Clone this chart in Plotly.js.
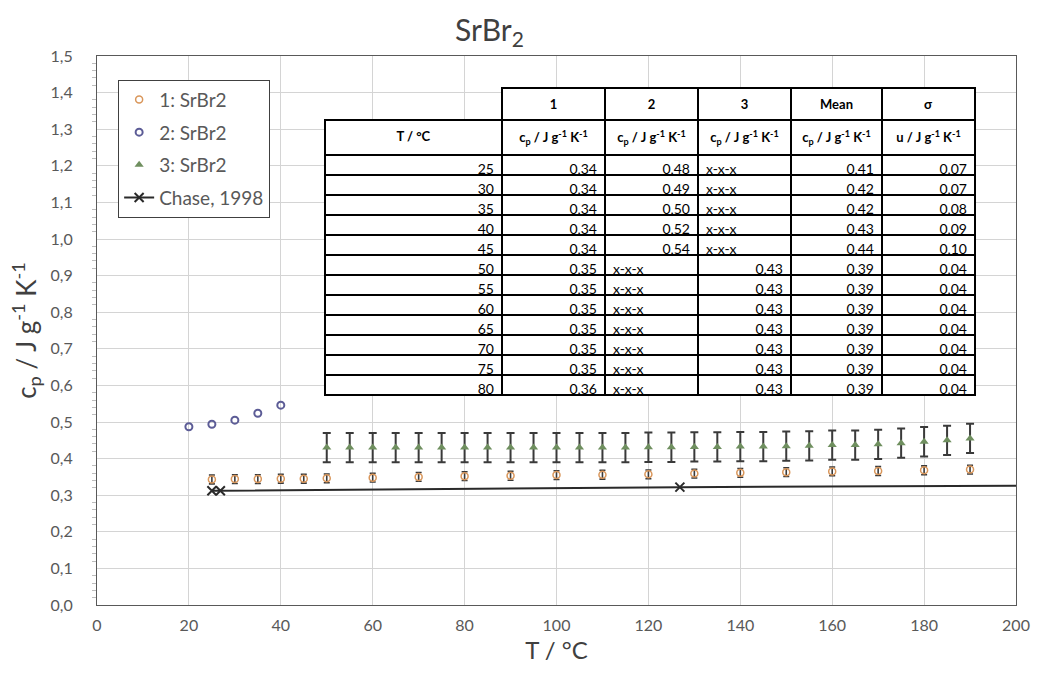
<!DOCTYPE html>
<html>
<head>
<meta charset="utf-8">
<script src="https://cdn.plot.ly/plotly-3.0.1.min.js"></script>
<style>html,body{margin:0;padding:0;background:#fff;}#chart{width:1037px;height:679px;}</style>
</head>
<body>
<div id="chart"></div>
<script>
// ---- Series data ----
const s1Name = '1: SrBr2';
const s1X = [25,30,35,40,45,50,60,70,80,90,100,110,120,130,140,150,160,170,180,190];
const s1Y = [0.343,0.344,0.344,0.345,0.345,0.346,0.348,0.350,0.352,0.353,0.355,0.356,0.357,0.359,0.361,0.363,0.365,0.366,0.368,0.370];
const s1Err = 0.012;

const s2Name = '2: SrBr2';
const s2X = [20,25,30,35,40];
const s2Y = [0.487,0.494,0.505,0.524,0.546];

const s3Name = '3: SrBr2';
const s3X = [50,55,60,65,70,75,80,85,90,95,100,105,110,115,120,125,130,135,140,145,150,155,160,165,170,175,180,185,190];
const s3Y = [0.430,0.430,0.430,0.430,0.430,0.430,0.430,0.430,0.430,0.430,0.430,0.430,0.430,0.430,0.431,0.431,0.432,0.432,0.433,0.433,0.434,0.435,0.437,0.437,0.439,0.442,0.446,0.450,0.455];
const s3Err = 0.04;

const chaseName = 'Chase, 1998';
const chaseX = [25,26.85,126.85,226.85];
const chaseY = [0.312,0.312,0.322,0.327];

// ---- Table data ----
const tableTopHeader = ['', '1', '2', '3', 'Mean', 'σ'];
const tableUnitHeader = ['T / °C', 'c<sub>p</sub> / J g<sup>-1</sup> K<sup>-1</sup>', 'c<sub>p</sub> / J g<sup>-1</sup> K<sup>-1</sup>', 'c<sub>p</sub> / J g<sup>-1</sup> K<sup>-1</sup>', 'c<sub>p</sub> / J g<sup>-1</sup> K<sup>-1</sup>', 'u / J g<sup>-1</sup> K<sup>-1</sup>'];
const tableT = [25,30,35,40,45,50,55,60,65,70,75,80];
const tableCp1 = [0.34,0.34,0.34,0.34,0.34,0.35,0.35,0.35,0.35,0.35,0.35,0.36];
const tableCp2 = [0.48,0.49,0.50,0.52,0.54,null,null,null,null,null,null,null];
const tableCp3 = [null,null,null,null,null,0.43,0.43,0.43,0.43,0.43,0.43,0.43];
const tableMean = [0.41,0.42,0.42,0.43,0.44,0.39,0.39,0.39,0.39,0.39,0.39,0.39];
const tableSigma = [0.07,0.07,0.08,0.09,0.10,0.04,0.04,0.04,0.04,0.04,0.04,0.04];

// ---- Layout geometry ----
const W = 1037, H = 679;
const M = {l: 97, r: 21, t: 56, b: 74};
const pw = W - M.l - M.r, ph = H - M.t - M.b;
const tbl = {x0: 325, x1: 975, y0: 88, y1: 402};

const nb = s => s.replace(/ /g, '\u00A0').replace(/<([a-z/]+)>/g, '<$1>');
const fmt = v => v == null ? 'x-x-x' : v.toFixed(2).replace('.', ',');
const valueCols = [tableCp1, tableCp2, tableCp3, tableMean, tableSigma];
const cellValues = [tableT.map(String)].concat(valueCols.map(c => c.map(fmt)));
const cellAlign = [tableT.map(() => 'right')].concat(valueCols.map(c => c.map(v => v == null ? 'left' : 'right')));
const headerValues = tableTopHeader.map((t, i) => ['<b>' + t + '</b>', '<b>' + nb(tableUnitHeader[i]) + '</b>']);
const clear = 'rgba(0,0,0,0)';
const headerLine = tableTopHeader.map((t, i) => i === 0 ? [clear, '#000'] : ['#000', '#000']);
const headerFill = tableTopHeader.map((t, i) => i === 0 ? [clear, '#fff'] : ['#fff', '#fff']);

const font = 'Lato, "Open Sans", sans-serif';
const errStyle = {type: 'constant', color: '#3a3a3a', thickness: 1.6, width: 3};

const traces = [
  {
    type: 'scatter', mode: 'markers', name: s1Name, legendgroup: 'a',
    x: s1X, y: s1Y,
    error_y: Object.assign({value: s1Err}, errStyle),
    marker: {symbol: 'circle-open', size: 7, color: '#d9965a', line: {width: 1.5, color: '#d9965a'}}
  },
  {
    type: 'scatter', mode: 'markers', name: s2Name, legendgroup: 'b',
    x: s2X, y: s2Y,
    marker: {symbol: 'circle-open', size: 7, color: '#5c5c96', line: {width: 2, color: '#5c5c96'}}
  },
  {
    type: 'scatter', mode: 'markers', name: s3Name, legendgroup: 'c',
    x: s3X, y: s3Y,
    error_y: Object.assign({value: s3Err}, errStyle, {thickness: 2, width: 4}),
    marker: {symbol: 'triangle-up', size: 8, color: '#6f8f5f'}
  },
  {
    type: 'scatter', mode: 'lines+markers', name: chaseName, legendgroup: 'd',
    x: chaseX, y: chaseY,
    line: {color: '#2a2a2a', width: 2},
    marker: {symbol: 'x-thin', size: 9, line: {width: 2, color: '#2a2a2a'}}
  },
  {
    type: 'table',
    domain: {
      x: [(tbl.x0 - M.l) / pw, (tbl.x1 - M.l) / pw],
      y: [(H - M.b - tbl.y1) / ph, (H - M.b - tbl.y0) / ph]
    },
    columnwidth: [177, 103, 93, 93, 91, 93],
    header: {
      values: headerValues,
      align: 'center',
      height: 22,
      line: {color: headerLine, width: 2},
      fill: {color: headerFill},
      font: {family: font, size: 13, color: '#000'}
    },
    cells: {
      values: cellValues,
      align: cellAlign,
      height: 20,
      line: {color: '#000', width: 2},
      fill: {color: '#fff'},
      font: {family: font, size: 14, color: '#000'}
    }
  }
];

const layout = {
  width: W, height: H,
  margin: M,
  paper_bgcolor: '#fff', plot_bgcolor: '#fff',
  separators: ', ',
  font: {family: font, color: '#595959'},
  title: {
    text: 'SrBr<sub>2</sub>',
    font: {family: font, size: 30, color: '#404040'},
    x: 0.472, xanchor: 'center', y: 0.955, yanchor: 'middle'
  },
  showlegend: true,
  legend: {
    x: 0.023, y: 0.957, xanchor: 'left', yanchor: 'top',
    bgcolor: '#fff', bordercolor: '#404040', borderwidth: 1,
    font: {family: font, size: 19, color: '#595959'},
    tracegroupgap: 5, itemwidth: 30
  },
  xaxis: {
    range: [0, 200], dtick: 20, tick0: 0,
    showgrid: true, gridcolor: '#d4d4d4', gridwidth: 1,
    showline: true, linecolor: '#595959', linewidth: 1, mirror: true,
    ticks: '', zeroline: false, ticklabelstandoff: 6,
    tickfont: {family: font, size: 16, color: '#595959'},
    title: {text: 'T / °C', font: {family: font, size: 24, color: '#404040'}, standoff: 8}
  },
  yaxis: {
    range: [0, 1.5], dtick: 0.1, tick0: 0, tickformat: '.1f',
    showgrid: true, gridcolor: '#d4d4d4', gridwidth: 1,
    showline: true, linecolor: '#595959', linewidth: 1, mirror: true,
    ticks: '', zeroline: false, ticklabelstandoff: 20,
    minor: {dtick: 0.02, ticks: 'outside', ticklen: 4, tickcolor: '#bdbdbd', showgrid: false},
    tickfont: {family: font, size: 16, color: '#595959'},
    title: {text: 'c<sub>p</sub> / J g<sup>-1</sup> K<sup>-1</sup>', font: {family: font, size: 26, color: '#404040'}, standoff: 6}
  }
};

Plotly.newPlot('chart', traces, layout, {staticPlot: true, displayModeBar: false});
</script>
</body>
</html>
